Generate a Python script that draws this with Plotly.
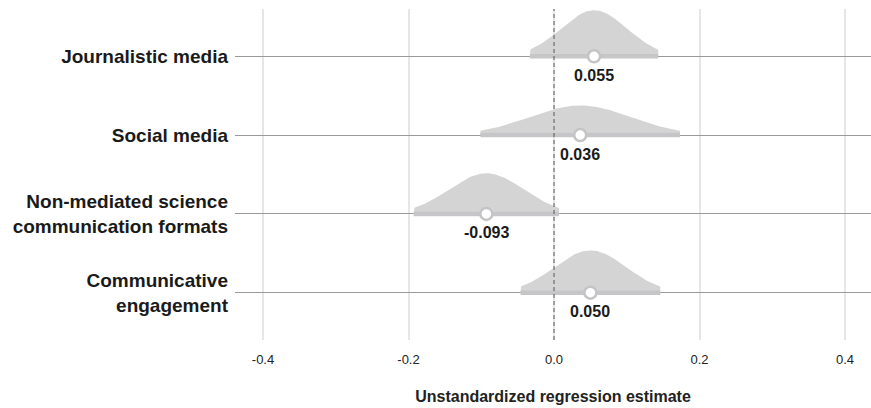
import numpy as np
import plotly.graph_objects as go

categories = ["Journalistic media", "Social media",
              "Non-mediated science<br>communication formats",
              "Communicative<br>engagement"]
estimates = [0.055, 0.036, -0.093, 0.050]
std_errors = [0.045, 0.070, 0.051, 0.049]
value_labels = ["0.055", "0.036", "-0.093", "0.050"]
x_ticks = [-0.4, -0.2, 0.0, 0.2, 0.4]
x_tick_labels = ["-0.4", "-0.2", "0.0", "0.2", "0.4"]

rows = [4, 3, 2, 1]
max_height = 0.585
min_se = min(std_errors)

fig = go.Figure()
FONT = "Arial, Liberation Sans, Helvetica, sans-serif"

for row, est, se in zip(rows, estimates, std_errors):
    lo, hi = est - 1.96 * se, est + 1.96 * se
    xs = np.linspace(lo, hi, 200)
    dens = np.exp(-0.5 * ((xs - est) / se) ** 2)
    h = max_height * (min_se / se)
    ys = row + h * dens
    px = np.concatenate([[lo], xs, [hi, lo]])
    py = np.concatenate([[row], ys, [row, row]])
    fig.add_trace(go.Scatter(x=px, y=py, fill="toself", fillcolor="#d4d4d5",
                             line=dict(width=0), mode="lines",
                             hoverinfo="skip", showlegend=False))
    fig.add_trace(go.Scatter(x=[lo, hi], y=[row, row], mode="lines",
                             line=dict(color="#c6c6c8", width=4.5),
                             hoverinfo="skip", showlegend=False))
    fig.add_trace(go.Scatter(x=[est], y=[row], mode="markers",
                             marker=dict(size=12, color="white",
                                         line=dict(color="#c4c4c6", width=2.5)),
                             showlegend=False))

for row, est, lab in zip(rows, estimates, value_labels):
    fig.add_annotation(x=est, y=row, text=lab, showarrow=False, yshift=-19,
                       font=dict(family=FONT, size=16, color="#1a1a1a", weight="bold"))

fig.add_shape(type="line", x0=0, x1=0, y0=0.4, y1=4.6, xref="x", yref="y",
              line=dict(color="#555555", width=1, dash="4px,3px"), layer="above")

fig.update_layout(
    width=871, height=408,
    margin=dict(l=235, r=0, t=9, b=68, autoexpand=False),
    plot_bgcolor="white", paper_bgcolor="white",
    font=dict(family=FONT),
    xaxis=dict(range=[-0.4385, 0.4357], tickvals=x_ticks, ticktext=x_tick_labels,
               showgrid=True, gridcolor="#e6e6e6", gridwidth=2,
               zeroline=False, showline=False, ticks="",
               ticklabelstandoff=10,
               tickfont=dict(size=13, color="#222222"),
               title=dict(text="Unstandardized regression estimate",
                          font=dict(size=16, color="#222222", weight="bold"),
                          standoff=24)),
    yaxis=dict(range=[0.4, 4.6], tickvals=rows, ticktext=categories,
               showgrid=True, gridcolor="#9a9a9a", gridwidth=1,
               zeroline=False, showline=False, ticks="", ticklen=0,
               ticklabelstandoff=6,
               tickfont=dict(size=19, color="#1a1a1a", weight="bold")),
)

fig.write_html("out.html", config={"displayModeBar": False},
               post_script="document.body.style.margin='0';document.body.style.overflow='hidden';")
